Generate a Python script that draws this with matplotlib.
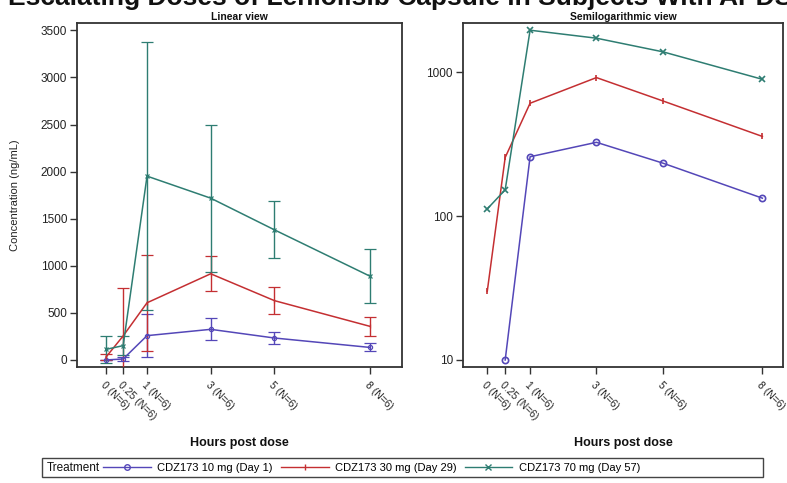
import numpy as np
import matplotlib
matplotlib.use("Agg")
import matplotlib.pyplot as plt
from matplotlib.lines import Line2D
from matplotlib.patches import Rectangle
from matplotlib.ticker import FixedLocator, NullLocator, FixedFormatter

plt.rcParams['font.family'] = ['Liberation Sans', 'DejaVu Sans']

# ---- data ----
hours = [0, 0.25, 1, 3, 5, 8]
time_axis = [-0.29, 0.25, 1, 3, 5, 8]   # predose drawn slightly left of 0.25
tick_labels = ["0 (N=6)", "0.25 (N=6)", "1 (N=6)", "3 (N=6)", "5 (N=6)", "8 (N=6)"]

series_names = ["CDZ173 10 mg (Day 1)", "CDZ173 30 mg (Day 29)", "CDZ173 70 mg (Day 57)"]
mean_10 = [0, 10, 258, 325, 233, 133]
sd_10 = [0, 25, 225, 117, 60, 42]
mean_30 = [30, 255, 607, 915, 630, 357]
sd_30 = [30, 510, 510, 185, 142, 100]
mean_70 = [112, 152, 1952, 1718, 1382, 890]
sd_70 = [142, 100, 1420, 780, 303, 285]

colors = ["#5447B8", "#C42F32", "#2E7D72"]
markers = ["o", "|", "x"]

means = [mean_10, mean_30, mean_70]
sds = [sd_10, sd_30, sd_70]

W, H = 787, 483
fig = plt.figure(figsize=(W / 100, H / 100), dpi=100)

def fr(x0, y0, x1, y1):
    return [x0 / W, 1 - y1 / H, (x1 - x0) / W, (y1 - y0) / H]

ax1 = fig.add_axes(fr(77, 23.3, 401.7, 367))
ax2 = fig.add_axes(fr(462.7, 23.3, 783.3, 367))

x = np.array(time_axis)
for m, s, c, mk in zip(means, sds, colors, markers):
    m = np.array(m, float)
    s = np.array(s, float)
    ax1.errorbar(x, m, yerr=s, color=c, lw=1.1, elinewidth=1.0, capsize=4,
                 capthick=1.0, marker=mk, ms=3, mfc='none', mew=0.9, zorder=3)
    mm = np.where(m > 0, m, np.nan)
    ax2.plot(x, mm, color=c, lw=1.1, marker=mk, ms=4.5, mfc='none', mew=1.2, zorder=3)

ax1.set_xlim(-1.2, 9.0)
ax1.set_ylim(-75, 3575)
ax1.set_yticks([0, 500, 1000, 1500, 2000, 2500, 3000, 3500])

ax2.set_yscale('log')
ax2.set_xlim(-1.03, 8.63)
ax2.set_ylim(8.94, 2180)
ax2.yaxis.set_major_locator(FixedLocator([10, 100, 1000]))
ax2.yaxis.set_major_formatter(FixedFormatter(["10", "100", "1000"]))
ax2.yaxis.set_minor_locator(NullLocator())

for ax, title in [(ax1, "Linear view"), (ax2, "Semilogarithmic view")]:
    ax.set_xticks(time_axis)
    ax.set_xticklabels(tick_labels, rotation=-45, ha='left', va='top',
                       rotation_mode='anchor', fontsize=7.5, color='#222222')
    ax.tick_params(axis='both', direction='out', length=5, width=1.0,
                   color='#333333', labelcolor='#222222')
    ax.tick_params(axis='y', labelsize=8.5, pad=2)
    ax.tick_params(axis='x', pad=4)
    for sp in ax.spines.values():
        sp.set_color('#333333')
        sp.set_linewidth(1.3)
    ax.set_title(title, fontsize=7.5, fontweight='bold', pad=2.5, color='#111111')
    ax.set_xlabel("Hours post dose", fontsize=9, fontweight='bold', color='#111111',
                  labelpad=6)
    ax.xaxis.set_label_coords(0.5, -(437 - 367) / (367 - 23.3))

ax1.set_ylabel("Concentration (ng/mL)", fontsize=8, color='#222222')
ax1.yaxis.set_label_coords(-(77 - 20) / (401.7 - 77), 0.5)

# main title (clipped by the figure edge as in the reference)
fig.text(8 / W, 1 - 5.5 / H, "Escalating Doses of Leniolisib Capsule in Subjects With APDS",
         fontsize=19, fontweight='bold', ha='left', va='baseline', color='#111111')

# legend
fig.add_artist(Rectangle((42 / W, 1 - 477 / H), (763 - 42) / W, 19 / H,
                         transform=fig.transFigure, fill=False, ec='#444444', lw=1.0))
fig.text(47 / W, 1 - 468 / H, "Treatment", fontsize=8.5, ha='left', va='center',
         color='#111111')
handles = [Line2D([], [], color=c, marker=mk, ms=4, mfc='none', mew=1.0, lw=1.0)
           for c, mk in zip(colors, markers)]
fig.legend(handles, series_names, loc='center left',
           bbox_to_anchor=(103 / W, 1 - 468 / H), ncol=3, frameon=False,
           fontsize=8, handlelength=4.3, handletextpad=0.6, columnspacing=0.7,
           borderpad=0, borderaxespad=0)

fig.savefig("out.png", dpi=100)
